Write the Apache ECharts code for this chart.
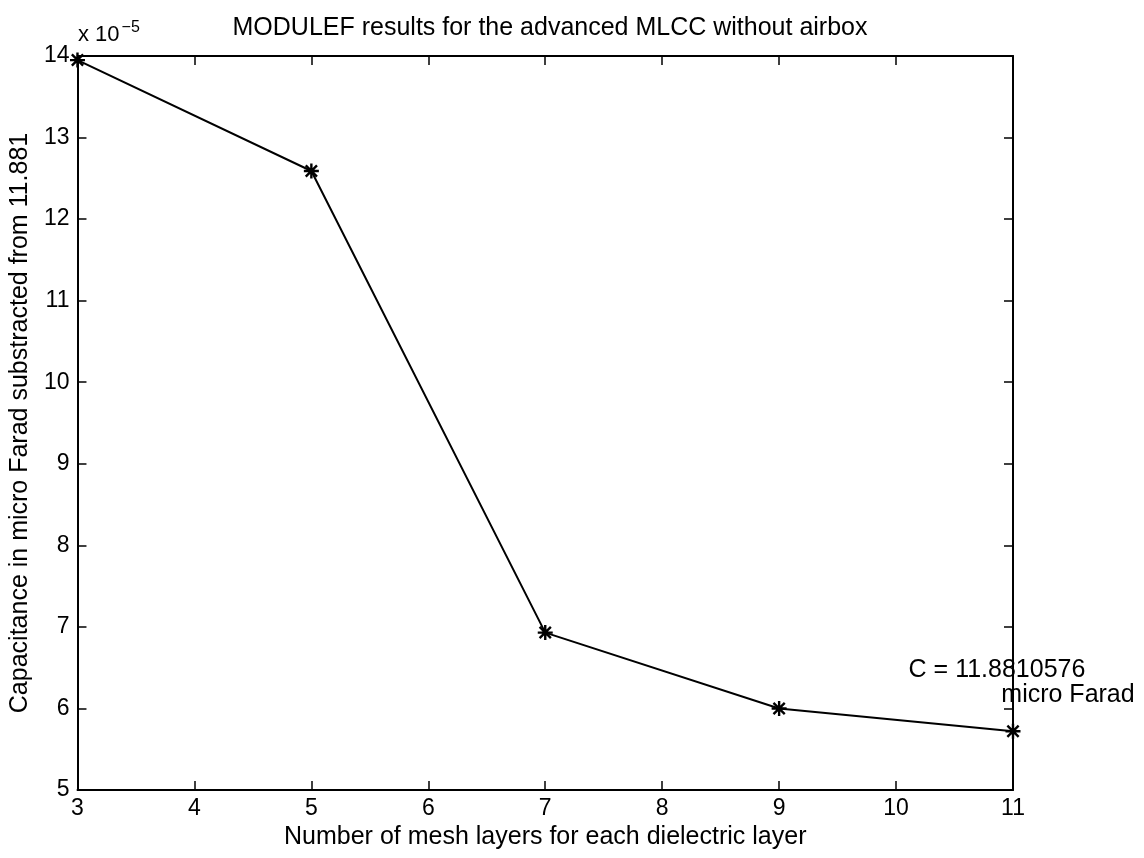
<!DOCTYPE html>
<html>
<head>
<meta charset="utf-8">
<script src="https://cdn.jsdelivr.net/npm/echarts@6/dist/echarts.min.js"></script>
<style>html,body{margin:0;padding:0;background:#fff;}#c{width:1144px;height:858px;}</style>
</head>
<body>
<div id="c"></div>
<script>
const xValues = [3, 5, 7, 9, 11];
const yValues = [13.95, 12.59, 6.93, 6.00, 5.72];
const titleText = 'MODULEF results for the advanced MLCC without airbox';
const xName = 'Number of mesh layers for each dielectric layer';
const yName = 'Capacitance in micro Farad substracted from 11.881';
const noteLine1 = 'C = 11.8810576';
const noteLine2 = 'micro Farad';

const FONT = "'Liberation Sans', Arial, Helvetica, sans-serif";
const chart = echarts.init(document.getElementById('c'), null, {renderer: 'canvas'});
const data = xValues.map((x, i) => [x, yValues[i]]);
const last = data[data.length - 1];

const baseAxis = {
  axisLine: {show: true, lineStyle: {color: '#000', width: 2}},
  axisTick: {show: true, inside: true, length: 9, lineStyle: {color: '#000', width: 1.5}},
  splitLine: {show: false}
};

const option = {
  backgroundColor: '#fff',
  animation: false,
  title: {
    text: titleText, left: 545, top: 11, textAlign: 'center',
    textStyle: {fontFamily: FONT, fontSize: 25, fontWeight: 'normal', color: '#000'}
  },
  grid: {left: 77, right: 131, top: 56, bottom: 68, containLabel: false},
  xAxis: [
    Object.assign({}, baseAxis, {
      type: 'value', min: 3, max: 11, interval: 1, position: 'bottom',
      name: xName, nameLocation: 'middle', nameGap: 25,
      nameTextStyle: {fontFamily: FONT, fontSize: 25, color: '#000'},
      axisLabel: {fontFamily: FONT, fontSize: 23, color: '#000', margin: 7}
    }),
    Object.assign({}, baseAxis, {
      type: 'value', min: 3, max: 11, interval: 1, position: 'top',
      axisLabel: {show: false}
    })
  ],
  yAxis: [
    Object.assign({}, baseAxis, {
      type: 'value', min: 5, max: 14, interval: 1, position: 'left',
      name: yName, nameLocation: 'middle', nameGap: 40, nameRotate: 90,
      nameTextStyle: {fontFamily: FONT, fontSize: 25, color: '#000'},
      axisLabel: {fontFamily: FONT, fontSize: 23, color: '#000', margin: 8}
    }),
    Object.assign({}, baseAxis, {
      type: 'value', min: 5, max: 14, interval: 1, position: 'right',
      axisLabel: {show: false}
    })
  ],
  graphic: [{
    type: 'text', left: 78, top: 20,
    style: {
      text: '{a|x 10}{b|\u22125}',
      rich: {
        a: {fontFamily: FONT, fontSize: 22, fill: '#000', verticalAlign: 'bottom', height: 30},
        b: {fontFamily: FONT, fontSize: 16, fill: '#000', verticalAlign: 'top', padding: [0, 0, 10, 2]}
      }
    }
  }],
  series: [{
    type: 'line',
    data: data,
    xAxisIndex: 0, yAxisIndex: 0,
    symbol: 'path://M0,-6L0,6M-6,0L6,0M-4.5,-4.5L4.5,4.5M-4.5,4.5L4.5,-4.5',
    symbolSize: 15,
    showAllSymbol: true,
    itemStyle: {color: 'none', borderColor: '#000', borderWidth: 2.4},
    lineStyle: {color: '#000', width: 2},
    markPoint: {
      symbol: 'circle', symbolSize: 0,
      data: [
        {coord: last, value: 0, label: {show: true, formatter: noteLine1, offset: [-16, -61]}},
        {coord: last, value: 0, label: {show: true, formatter: noteLine2, offset: [55, -36]}}
      ],
      label: {fontFamily: FONT, fontSize: 25, color: '#000', position: 'inside'}
    }
  }]
};
chart.setOption(option);
</script>
</body>
</html>
